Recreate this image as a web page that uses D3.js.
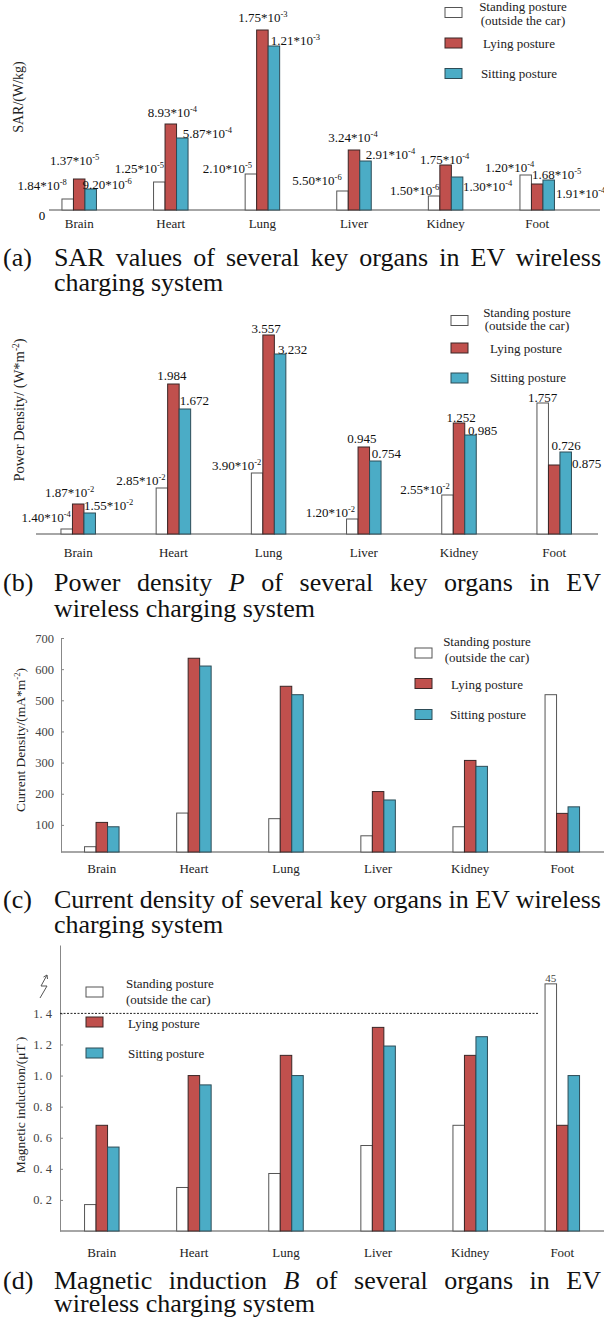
<!DOCTYPE html>
<html>
<head>
<meta charset="utf-8">
<script src="https://cdn.jsdelivr.net/npm/d3@7"></script>
<style>
body { margin: 0; background: #fff; }
svg { display: block; font-family: "Liberation Serif", "Times New Roman", serif; }
</style>
</head>
<body>
<svg id="fig" width="604" height="1318"></svg>
<script>
var organs = ["Brain", "Heart", "Lung", "Liver", "Kidney", "Foot"];
var legendText = [["Standing posture", "(outside the car)"], ["Lying posture"], ["Sitting posture"]];

// (a) SAR, printed values (W/kg) and bar heights as drawn (the figure is not to scale)
var sarStanding = ["1.84*10^-8", "1.25*10^-5", "2.10*10^-5", "5.50*10^-6", "1.50*10^-6", "1.20*10^-4"];
var sarLying    = ["1.37*10^-5", "8.93*10^-4", "1.75*10^-3", "3.24*10^-4", "1.75*10^-4", "1.68*10^-5"];
var sarSitting  = ["9.20*10^-6", "5.87*10^-4", "1.21*10^-3", "2.91*10^-4", "1.30*10^-4", "1.91*10^-4"];
var sarHStanding = [11, 28, 36, 19, 14, 35];
var sarHLying    = [31, 86, 180, 60, 45, 26];
var sarHSitting  = [21, 72, 164, 49, 33, 30];

// (b) power density, printed values (W*m^-2) and drawn heights
var pdStanding = ["1.40*10^-4", "2.85*10^-2", "3.90*10^-2", "1.20*10^-2", "2.55*10^-2", "1.757"];
var pdLying    = ["1.87*10^-2", "1.984", "3.557", "0.945", "1.252", "0.726"];
var pdSitting  = ["1.55*10^-2", "1.672", "3.232", "0.754", "0.985", "0.875"];
var pdHStanding = [5, 46, 61, 15, 39, 131];
var pdHLying    = [30, 150, 199, 87, 111, 69];
var pdHSitting  = [21, 125, 180, 73, 99, 82];

// (c) current density (mA*m^-2)
var cdStanding = [30, 138, 120, 65, 94, 518];
var cdLying    = [108, 635, 545, 207, 307, 137];
var cdSitting  = [94, 610, 518, 180, 288, 158];
var cdTicks = [100, 200, 300, 400, 500, 600, 700];

// (d) magnetic induction (uT), Foot standing is 45 (axis broken)
var mbStanding = [0.17, 0.28, 0.37, 0.55, 0.68, 45];
var mbLying    = [0.68, 1.00, 1.13, 1.31, 1.13, 0.68];
var mbSitting  = [0.54, 0.94, 1.00, 1.19, 1.25, 1.00];
var mbTicks = [0.2, 0.4, 0.6, 0.8, 1.0, 1.2, 1.4];
var mbLimit = 1.4;

// ---- layout ----
var bw = 11.5;
var fills   = ["#ffffff", "#c0504d", "#4bacc6"];
var strokes = ["#555555", "#3b2626", "#2d4c57"];

// label offsets [dx, dy] from each bar's top centre
var sarOff = [
  [[-25.5, -9.5], [-20, -9], [-23.5, -1.5], [-25.5, -6.5], [-19.5, -1.5], [-16, -3.5]],
  [[-4.5, -14.5], [1.5, -7.5], [0.5, -8.5], [-1, -8.5], [-1, -1.5], [19.5, -5.5]],
  [[16.5, -0.5], [25, -0.5], [21.5, -1.5], [25, -2.5], [30.5, 13.5], [32, 17.5]]
];
var pdOff = [
  [[-20.5, -7.5], [-21, -3.5], [-20.5, -3.5], [-22, -2.5], [-22.5, -1.5], [0, -1.5]],
  [[-8.5, -7.5], [-1.5, -4.5], [-2.5, -2.5], [-2, -4.5], [2, -1.5], [12, -15.5]],
  [[19, -3.5], [9.5, -4.5], [12.5, -0.5], [11, -3.5], [12, -0.5], [21, 15.5]]
];

var svg = d3.select("#fig");

function centre(x, o) { return x(o) + x.bandwidth() / 2; }

function drawBars(g, x, y, cols, cap)
{
	var base = y(y.domain()[0]);
	cols.forEach(function(vals, k) {
		g.selectAll(null).data(vals).enter().append("rect")
			.attr("x", function(d, i) { return centre(x, organs[i]) + (k - 1.5) * bw; })
			.attr("y", function(d) { return y(Math.min(d, cap)); })
			.attr("width", bw)
			.attr("height", function(d) { return base - y(Math.min(d, cap)); })
			.attr("fill", fills[k])
			.attr("stroke", strokes[k])
			.attr("stroke-width", 1);
	});
}

function setLabel(t, s, sub)
{
	var p = s.split("^");
	t.append("tspan").text(p[0]);
	if (p[1]) t.append("tspan").attr("font-size", sub || 8.5).attr("dy", -5).text(p[1]);
}

function drawValueLabels(g, x, y, texts, heights, offs)
{
	texts.forEach(function(col, k) {
		col.forEach(function(s, i) {
			var t = g.append("text")
				.attr("x", centre(x, organs[i]) + (k - 1) * bw + offs[k][i][0])
				.attr("y", y(heights[k][i]) + offs[k][i][1])
				.attr("text-anchor", "middle")
				.attr("font-size", 13)
				.attr("fill", "#111");
			setLabel(t, s);
		});
	});
}

function drawCategories(g, x, yText, size)
{
	g.selectAll(null).data(organs).enter().append("text")
		.attr("x", function(d) { return centre(x, d); })
		.attr("y", yText)
		.attr("text-anchor", "middle")
		.attr("font-size", size || 13)
		.attr("fill", "#222")
		.text(function(d) { return d; });
}

function drawLegend(g, L)
{
	legendText.forEach(function(lines, k) {
		g.append("rect")
			.attr("x", L.boxX).attr("y", L.boxY[k] - 5)
			.attr("width", 17).attr("height", 10)
			.attr("fill", fills[k]).attr("stroke", strokes[k]);
		lines.forEach(function(s, j) {
			g.append("text")
				.attr("x", L.textX[k]).attr("y", L.textY[k][j])
				.attr("text-anchor", L.anchor)
				.attr("font-size", 13)
				.attr("fill", "#222")
				.text(s);
		});
	});
}

function yTitle(g, cx, cy, parts, size)
{
	var t = g.append("text")
		.attr("transform", "translate(" + cx + "," + cy + ") rotate(-90)")
		.attr("text-anchor", "middle")
		.attr("font-size", size)
		.attr("fill", "#222");
	parts.forEach(function(p) {
		var s = t.append("tspan").text(p.t);
		if (p.sup) s.attr("font-size", size * 0.65).attr("dy", -5);
		if (p.down) s.attr("dy", 5);
	});
}

function caption(tag, line1, line2, y1, y2)
{
	svg.append("text").attr("x", 3).attr("y", y1).attr("font-size", 26).attr("fill", "#111").text(tag);
	var t = svg.append("text").attr("x", 54).attr("y", y1).attr("font-size", 26).attr("fill", "#111");
	var spaces = 0;
	line1.forEach(function(p) {
		var s = t.append("tspan").text(p.t);
		if (p.i) s.attr("font-style", "italic");
		spaces += (p.t.match(/ /g) || []).length;
	});
	var w = t.node().getComputedTextLength();
	t.style("word-spacing", ((601 - 54 - w) / spaces) + "px");  // justify first line
	svg.append("text").attr("x", 54).attr("y", y2).attr("font-size", 26).attr("fill", "#111").text(line2);
}

// ---------- (a) ----------
var gA = svg.append("g");
var xA = d3.scaleBand().domain(organs).range([33.4, 583]);
var yA = d3.scaleLinear().domain([0, 200]).range([210, 10]);
gA.append("line").attr("x1", 49).attr("x2", 600).attr("y1", yA(0)).attr("y2", yA(0))
	.attr("stroke", "#888").attr("stroke-width", 1.3);
gA.append("text").attr("x", 42).attr("y", 220).attr("text-anchor", "middle").attr("font-size", 13).text("0");
drawBars(gA, xA, yA, [sarHStanding, sarHLying, sarHSitting], Infinity);
drawValueLabels(gA, xA, yA, [sarStanding, sarLying, sarSitting], [sarHStanding, sarHLying, sarHSitting], sarOff);
drawCategories(gA, xA, 228);
drawLegend(gA, {boxX: 445, boxY: [12.5, 43, 73.5], textX: [523, 519, 519], anchor: "middle",
	textY: [[10.5, 24.5], [47.5], [78]]});
yTitle(gA, 23, 97, [{t: "SAR/(W/kg)"}], 14);
caption("(a)", [{t: "SAR values of several key organs in EV wireless"}], "charging system", 266, 291);

// ---------- (b) ----------
var gB = svg.append("g");
var xB = d3.scaleBand().domain(organs).range([30.6, 601.8]);
var yB = d3.scaleLinear().domain([0, 200]).range([534, 334]);
gB.append("line").attr("x1", 36).attr("x2", 598).attr("y1", yB(0)).attr("y2", yB(0))
	.attr("stroke", "#888").attr("stroke-width", 1.3);
drawBars(gB, xB, yB, [pdHStanding, pdHLying, pdHSitting], Infinity);
drawValueLabels(gB, xB, yB, [pdStanding, pdLying, pdSitting], [pdHStanding, pdHLying, pdHSitting], pdOff);
drawCategories(gB, xB, 557);
drawLegend(gB, {boxX: 451, boxY: [320.5, 348, 378], textX: [527, 526, 528], anchor: "middle",
	textY: [[316.5, 329.5], [352.5], [381.5]]});
yTitle(gB, 24, 410, [{t: "Power Density/ (W*m"}, {t: "-2", sup: true}, {t: ")", down: true}], 14.5);
caption("(b)", [{t: "Power density "}, {t: "P", i: true}, {t: " of several key organs in EV"}],
	"wireless charging system", 591, 617);

// ---------- (c) ----------
var gC = svg.append("g");
var xC = d3.scaleBand().domain(organs).range([55.75, 608.35]);
var yC = d3.scaleLinear().domain([13, 700]).range([852, 638]);
gC.append("line").attr("x1", 61).attr("x2", 604).attr("y1", yC(13)).attr("y2", yC(13))
	.attr("stroke", "#888").attr("stroke-width", 1.3);
var axC = gC.append("g").attr("transform", "translate(61,0)")
	.call(d3.axisLeft(yC).tickValues(cdTicks).tickSize(-3).tickSizeOuter(0).tickPadding(7));
axC.selectAll("path, line").attr("stroke", "#888");
axC.selectAll("text").attr("font-size", 12.5).attr("fill", "#444").attr("font-family", "Liberation Serif, serif");
drawBars(gC, xC, yC, [cdStanding, cdLying, cdSitting], Infinity);
drawCategories(gC, xC, 873);
drawLegend(gC, {boxX: 415, boxY: [653, 683.5, 714.5], textX: [487, 487, 488], anchor: "middle",
	textY: [[645.5, 661.5], [688.5], [718.5]]});
yTitle(gC, 25, 740, [{t: "Current Density/(mA*m"}, {t: "-2", sup: true}, {t: ")", down: true}], 13.5);
caption("(c)", [{t: "Current density of several key organs in EV wireless"}], "charging system", 908, 933);

// ---------- (d) ----------
var gD = svg.append("g");
var xD = d3.scaleBand().domain(organs).range([55.75, 608.35]);
var yD = d3.scaleLinear().domain([0, 1.84]).range([1231, 945]);
var mbCap = 1.59; // where the broken Foot bar is cut
gD.append("line").attr("x1", 60).attr("x2", 604).attr("y1", yD(0)).attr("y2", yD(0))
	.attr("stroke", "#888").attr("stroke-width", 1.3);
var axD = gD.append("g").attr("transform", "translate(60,0)")
	.call(d3.axisLeft(yD).tickValues(mbTicks).tickSize(-3).tickSizeOuter(0).tickPadding(8)
		.tickFormat(function(d) { return d3.format(".1f")(d).replace(".", ".\u00a0"); }));
axD.selectAll("path, line").attr("stroke", "#888");
axD.selectAll("text").attr("font-size", 12.5).attr("fill", "#444").attr("font-family", "Liberation Serif, serif");
gD.append("line").attr("x1", 60).attr("x2", 538).attr("y1", yD(mbLimit)).attr("y2", yD(mbLimit))
	.attr("stroke", "#222").attr("stroke-width", 1).attr("stroke-dasharray", "2,1.5");
drawBars(gD, xD, yD, [mbStanding, mbLying, mbSitting], mbCap);
gD.append("text").attr("x", centre(xD, "Foot") - bw).attr("y", yD(mbCap) - 1.5)
	.attr("text-anchor", "middle").attr("font-size", 11).attr("fill", "#444")
	.text(mbStanding[5]);
// axis break mark
gD.append("path").attr("d", "M40,998 L47,986 L41,986 L47,975 M43.5,977 L47,975 L47.5,979")
	.attr("fill", "none").attr("stroke", "#555").attr("stroke-width", 1);
drawCategories(gD, xD, 1257);
drawLegend(gD, {boxX: 86, boxY: [992, 1022, 1053], textX: [126, 128, 128], anchor: "start",
	textY: [[987.5, 1003.5], [1027.5], [1057.5]]});
yTitle(gD, 25, 1105, [{t: "Magnetic induction/(\u03bcT )"}], 13.5);
caption("(d)", [{t: "Magnetic induction "}, {t: "B", i: true}, {t: " of several organs in EV"}],
	"wireless charging system", 1289, 1312);
</script>
</body>
</html>
